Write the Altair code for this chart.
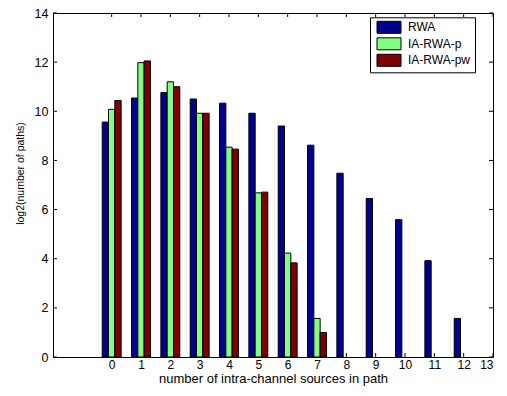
import altair as alt
import pandas as pd

categories = list(range(13))
series = ["RWA", "IA-RWA-p", "IA-RWA-pw"]
rwa = [9.56, 10.54, 10.76, 10.5, 10.33, 9.92, 9.40, 8.62, 7.48, 6.45, 5.59, 3.92, 1.57]
ia_p = [10.08, 11.98, 11.2, 9.92, 8.54, 6.68, 4.23, 1.57, 0, 0, 0, 0, 0]
ia_pw = [10.44, 12.05, 11.0, 9.92, 8.46, 6.71, 3.83, 1.0, 0, 0, 0, 0, 0]
colors = ["#00008F", "#80FF80", "#800000"]
x_ticks = list(range(14))
y_ticks = list(range(0, 15, 2))

W, H = 440, 344
FONT = "Liberation Sans"
bar_w = 0.215

rows = []
for si, (name, vals) in enumerate(zip(series, [rwa, ia_p, ia_pw])):
    for c, v in zip(categories, vals):
        if v <= 0:
            continue
        center = c + (si - 1) * bar_w
        rows.append(dict(series=name, x0=center - bar_w / 2, x1=center + bar_w / 2,
                         value=v, base=0))
df = pd.DataFrame(rows)

xscale = alt.Scale(domain=[-2, 13], nice=False, zero=False)
yscale = alt.Scale(domain=[0, 14], nice=False)

xaxis = alt.Axis(values=x_ticks, title="number of intra-channel sources in path",
                 grid=False, domain=False, ticks=False, labelPadding=2,
                 labelFontSize=12, titleFontSize=13, titlePadding=2, format="d")
yaxis = alt.Axis(values=y_ticks, title="log2(number of paths)", grid=False,
                 domain=False, ticks=False, labelPadding=5, labelFontSize=12.5,
                 titleFontSize=10.5, titleX=-28, titleY=160,
                 titleAngle=270, titleBaseline="bottom", titleAlign="center")

xt = pd.DataFrame({"t": x_ticks})
yt = pd.DataFrame({"t": y_ticks})

tick_b = alt.Chart(xt).mark_rule(color="black", strokeWidth=1).encode(
    x=alt.X("t:Q", scale=xscale, axis=xaxis), y=alt.value(H), y2=alt.value(H - 4))
tick_t = alt.Chart(xt).mark_rule(color="black", strokeWidth=1).encode(
    x=alt.X("t:Q", scale=xscale, axis=xaxis), y=alt.value(0), y2=alt.value(4))
tick_l = alt.Chart(yt).mark_rule(color="black", strokeWidth=1).encode(
    y=alt.Y("t:Q", scale=yscale, axis=yaxis), x=alt.value(0), x2=alt.value(4))
tick_r = alt.Chart(yt).mark_rule(color="black", strokeWidth=1).encode(
    y=alt.Y("t:Q", scale=yscale, axis=yaxis), x=alt.value(W), x2=alt.value(W - 4))

bars = alt.Chart(df).mark_rect(stroke="black", strokeWidth=1).encode(
    x=alt.X("x0:Q", scale=xscale, axis=xaxis),
    x2="x1:Q",
    y=alt.Y("value:Q", scale=yscale, axis=yaxis),
    y2="base:Q",
    color=alt.Color("series:N", scale=alt.Scale(domain=series, range=colors),
                    legend=alt.Legend(title=None, orient="none", legendX=317, legendY=4.3,
                                      direction="vertical", fillColor="white",
                                      strokeColor="black", padding=4,
                                      symbolType="M-3,-1.5H3V1.5H-3Z", symbolSize=64,
                                      symbolStrokeColor="black", symbolStrokeWidth=1,
                                      symbolOpacity=1, symbolOffset=9,
                                      labelOffset=13, rowPadding=0.5,
                                      labelExpr="datum.label + '          '")),
)

chart = alt.layer(tick_b, tick_t, tick_l, tick_r, bars).properties(
    width=W, height=H,
    autosize=alt.AutoSizeParams(type="none"),
    padding={"left": 45, "top": 5, "right": 6, "bottom": 31},
).configure_view(stroke="black", strokeWidth=1).configure_axis(
    labelFont=FONT, labelColor="black",
    titleFont=FONT, titleColor="black", titleFontWeight="normal",
).configure_legend(labelFont=FONT, labelFontSize=12, labelColor="black")

chart.save("out.html", embed_options={"renderer": "svg", "actions": False})
